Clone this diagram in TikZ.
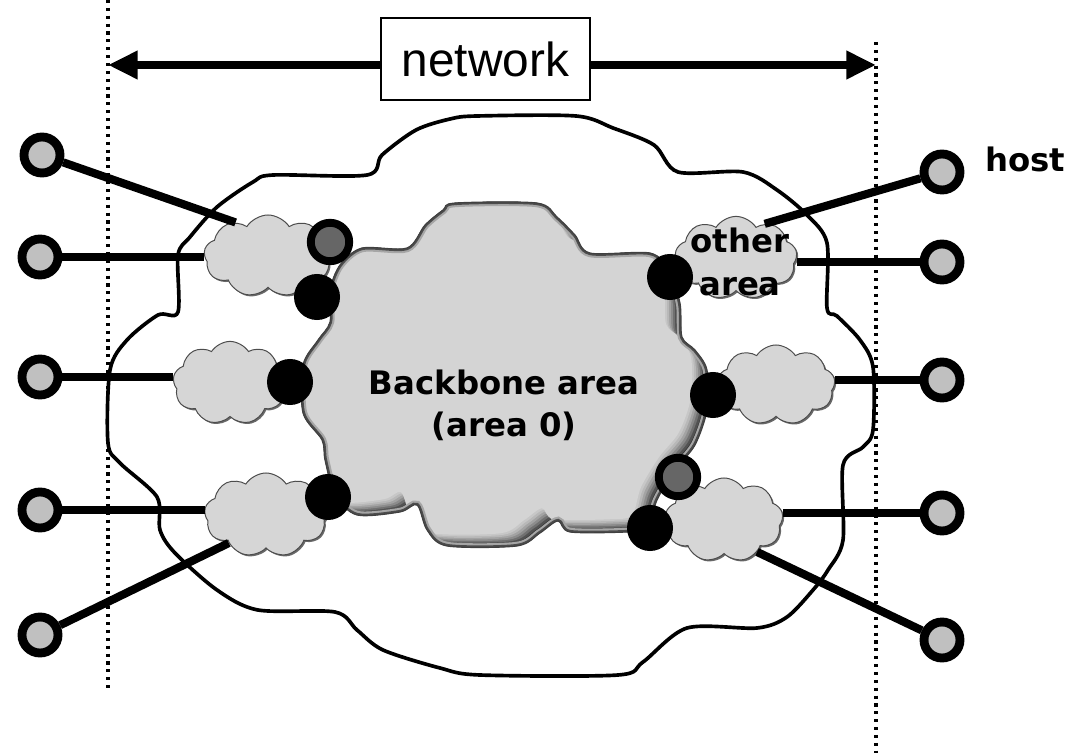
\documentclass[tikz,border=0pt]{standalone}
\usepackage{fontspec}
\newfontfamily\netfont{Liberation Sans}
\newfontfamily\tagfont{DejaVu Sans}
\usetikzlibrary{shapes.symbols,arrows.meta,shadows}
\definecolor{hostgray}{HTML}{C0C0C0}
\definecolor{cloudgray}{HTML}{D6D6D6}
\definecolor{routergray}{HTML}{666666}

\begin{document}
\begin{tikzpicture}
[
    x=0.025cm, y=-0.025cm,
    host/.style={circle, draw, line width=6.3pt, fill=hostgray, minimum size=0.9cm, inner sep=0pt},
    router/.style={circle, fill=black, minimum size=1.15cm, inner sep=0pt},
    asbr/.style={circle, draw, line width=5.6pt, fill=routergray, minimum size=0.96cm, inner sep=0pt},
    area/.style={cloud, cloud puffs=9, cloud puff arc=115, cloud ignores aspect, inner sep=0pt,
        fill=cloudgray, draw=black!70, line width=0.7pt,
        drop shadow={shadow xshift=1.1pt, shadow yshift=-1.1pt, fill=black!65, opacity=0.9}},
    link/.style={line width=5.8pt},
    rim/.style={line width=2.2pt, dash pattern=on 2.2pt off 3.4pt},
    tag/.style={font=\tagfont\bfseries\fontsize{23}{30}\selectfont, inner sep=0pt, align=center},
]
\path[use as bounding box] (0,0) rectangle (1069,753);

\coordinate (ltop) at (108,0);
\coordinate (lbot) at (108,690);
\coordinate (rtop) at (876,42);
\coordinate (rbot) at (876,753);
\draw[rim] (ltop) -- (lbot);
\draw[rim] (rtop) -- (rbot);

\node[draw, line width=1pt, minimum width=5.225cm, minimum height=2.05cm, inner sep=0pt,
    font=\netfont\fontsize{34}{40}\selectfont] (net) at (485.5,59) {network};
\coordinate (larr) at (108,65);
\coordinate (rarr) at (876,65);
\draw[line width=5.5pt, -{Triangle[length=21pt,width=19pt]}] (net.west |- larr) -- (larr);
\draw[line width=5.5pt, -{Triangle[length=21pt,width=19pt]}] (net.east |- rarr) -- (rarr);

\draw[line width=2.6pt, fill=white] plot[smooth cycle, tension=0.5] coordinates {
    (477,116) (576,116) (613,128) (654,145) (678,172) (743,172) (777,190) (807,215)
    (827,243) (827,308) (837,316) (860,340) (873,367) (873,430) (863,447) (843,465)
    (843,540) (828,570) (813,590) (787,617) (757,628) (687,628) (643,662) (618,675)
    (480,675) (440,668) (383,650) (357,630) (335,612) (258,610) (217,590) (175,553)
    (160,530) (157,497) (120,463) (108,443) (110,370) (127,340) (158,315) (178,312)
    (178,255) (190,237) (217,207) (253,182) (273,175) (367,175) (382,155) (416,130)
    (450,119)};

\def\bbpath{plot[smooth cycle, tension=0.5] coordinates {
    (455,203) (537,203) (557,217) (575,235) (590,253) (650,253) (668,270) (680,303)
    (682,337) (695,350) (707,370) (707,410) (695,445) (675,470) (657,500) (648,528)
    (627,532) (570,532) (558,521) (540,533) (517,546) (447,546) (427,530) (417,505)
    (400,512) (357,515) (335,495) (325,460) (322,440) (303,413) (303,365) (318,340)
    (330,322) (330,290) (340,265) (362,248) (407,248) (425,225) (443,210)}}
\begin{scope}
\clip \bbpath;
\fill[black!92] (280,190) rectangle (720,560);
\foreach \k/\c in {2/80,4/68,6/56,8/45,10/36,12/28,14/22,16/17}
    \fill[black!\c, shift={(-\k,-0.8*\k)}] \bbpath;
\draw[black!35, line width=6pt] \bbpath;
\draw[black!70, line width=3pt] \bbpath;
\end{scope}
\draw[black!75, line width=0.8pt] \bbpath;
\node[tag] (bb) at (504,405) {Backbone area\\(area 0)};

\node[area, minimum width=3.2cm, minimum height=2.05cm] (a1) at (268,256) {};
\node[area, minimum width=2.85cm, minimum height=2.08cm] (a2) at (230,383) {};
\node[area, minimum width=3.08cm, minimum height=2.1cm] (a3) at (266,515) {};
\node[area, minimum width=3.05cm, minimum height=2.08cm] (oa) at (736,258) {};
\node[area, minimum width=2.95cm, minimum height=2.0cm] (a5) at (776,385) {};
\node[area, minimum width=2.95cm, minimum height=2.1cm] (a6) at (724,520) {};
\node[tag] (oalbl) at (740,262) {other\\area};

\node[asbr] (g1) at (330,242) {};
\node[router] (r1) at (317,297) {};
\node[router] (r2) at (290,382) {};
\node[router] (r3) at (328,497) {};
\node[router] (r4) at (670,277) {};
\node[router] (r5) at (713,395) {};
\node[asbr] (g2) at (678,477) {};
\node[router] (r6) at (650,528) {};

\node[host] (hl1) at (42,155) {};
\node[host] (hl2) at (40,257) {};
\node[host] (hl3) at (40,377) {};
\node[host] (hl4) at (40,510) {};
\node[host] (hl5) at (40,635) {};
\node[host] (hr1) at (942,172) {};
\node[host] (hr2) at (942,262) {};
\node[host] (hr3) at (942,380) {};
\node[host] (hr4) at (942,513) {};
\node[host] (hr5) at (942,640) {};
\node[tag, anchor=base west] (hostlbl) at (985,172) {host};

\draw[link] (hl1) -- (a1.134);
\draw[link] (hl2) -- (hl2 -| a1.west);
\draw[link] (hl3) -- (hl3 -| a2.west);
\draw[link] (hl4) -- (hl4 -| a3.west);
\draw[link] (hl5) -- (a3.217);
\draw[link] (hr1) -- (oa.50);
\draw[link] (hr2) -- (hr2 -| oa.east);
\draw[link] (hr3) -- (hr3 -| a5.east);
\draw[link] (hr4) -- (hr4 -| a6.east);
\draw[link] (hr5) -- (a6.-44);
\end{tikzpicture}
\end{document}
